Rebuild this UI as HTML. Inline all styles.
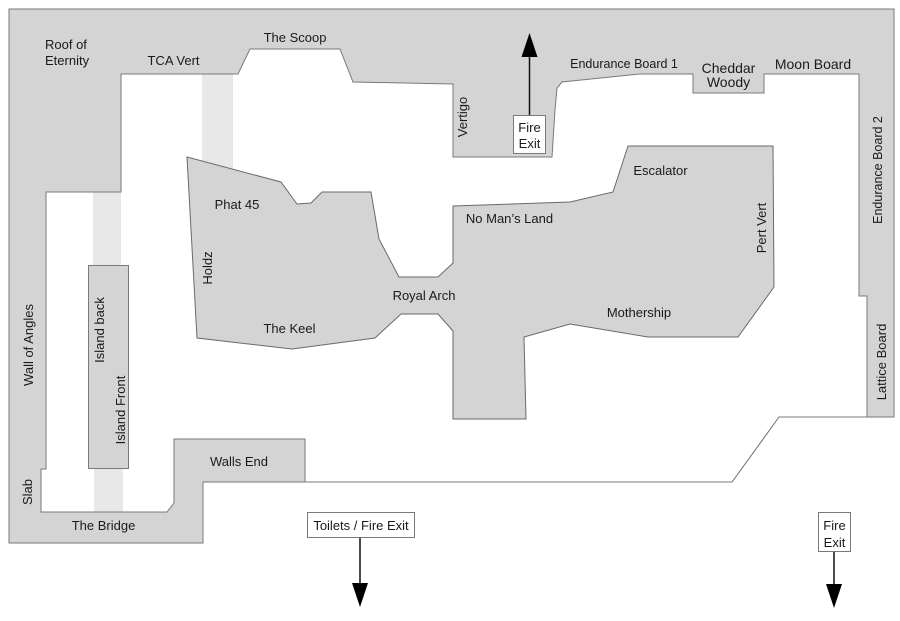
<!DOCTYPE html>
<html><head><meta charset="utf-8"><style>
html,body{margin:0;padding:0;background:#fff;}
svg{display:block;}
text{font-family:"Liberation Sans",Arial,sans-serif;font-size:13px;fill:#1a1a1a;}
</style></head><body>
<svg width="900" height="621" viewBox="0 0 900 621" xmlns="http://www.w3.org/2000/svg">
<!-- outer gray walls -->
<polygon points="9,9 894,9 894,417 779,417 732,482 203,482 203,543 9,543" fill="#d4d4d4" stroke="#7a7a7a" stroke-width="1"/>
<!-- floor (white) -->
<polygon points="121,74 238,74 250,49 340,49 353,82 453,84 453,157 552,157 555,110 557,88 562,82 640,74 693,74 693,93 764,93 764,74 859,74 859,296 867,296 867,417 779,417 732,482 305,482 305,439 174,439 174,503 167,512 41,512 41,469 46,469 46,192 121,192" fill="#ffffff" stroke="#7a7a7a" stroke-width="1"/>
<!-- light strips -->
<rect x="202" y="74.5" width="31" height="100" fill="#e9e8e9"/>
<rect x="93" y="192.5" width="28" height="73" fill="#e9e8e9"/>
<rect x="94" y="468" width="29" height="43.5" fill="#e9e8e9"/>
<!-- island -->
<rect x="88.5" y="265.5" width="40" height="203" fill="#d4d4d4" stroke="#7a7a7a" stroke-width="1"/>
<!-- central mass -->
<polygon points="187,157 281,182 297,204 311,203 322,192 371,192 379,239 399,277 438,277 453,263 453,206 570,202 613,192 628,146 773,146 774,287 738,337 648,337 570,324 524,337 526,419 453,419 453,331 438,314 401,314 375,338 292,349 197,338" fill="#d4d4d4" stroke="#6a6a6a" stroke-width="1"/>
<!-- fire exit top -->
<line x1="529.5" y1="115" x2="529.5" y2="56" stroke="#111" stroke-width="1.5"/>
<polygon points="521.5,57 537.5,57 529.5,33" fill="#000"/>
<rect x="513.5" y="115.5" width="32" height="38" fill="#fff" stroke="#7a7a7a" stroke-width="1"/>
<text x="529.5" y="132" text-anchor="middle">Fire</text>
<text x="529.5" y="148" text-anchor="middle">Exit</text>
<!-- toilets box -->
<rect x="307.5" y="512.5" width="107" height="25" fill="#fff" stroke="#7a7a7a" stroke-width="1"/>
<text x="361" y="530" text-anchor="middle">Toilets / Fire Exit</text>
<line x1="360" y1="538" x2="360" y2="584" stroke="#111" stroke-width="1.5"/>
<polygon points="352,583 368,583 360,607" fill="#000"/>
<!-- bottom right fire exit -->
<rect x="818.5" y="512.5" width="32" height="39" fill="#fff" stroke="#7a7a7a" stroke-width="1"/>
<text x="834.5" y="530" text-anchor="middle">Fire</text>
<text x="834.5" y="547" text-anchor="middle">Exit</text>
<line x1="834" y1="552" x2="834" y2="585" stroke="#111" stroke-width="1.5"/>
<polygon points="826,584 842,584 834,608" fill="#000"/>
<!-- labels -->
<text x="45" y="49">Roof of</text>
<text x="45" y="65">Eternity</text>
<text x="173.5" y="65" text-anchor="middle">TCA Vert</text>
<text x="295" y="42" text-anchor="middle">The Scoop</text>
<text transform="translate(467,117) rotate(-90)" text-anchor="middle">Vertigo</text>
<text x="624" y="68" text-anchor="middle" style="font-size:12.5px">Endurance Board 1</text>
<text x="728.5" y="73" text-anchor="middle" style="font-size:14px">Cheddar</text>
<text x="728.5" y="87" text-anchor="middle" style="font-size:14px">Woody</text>
<text x="813" y="69" text-anchor="middle" style="font-size:14px">Moon Board</text>
<text transform="translate(882,170) rotate(-90)" text-anchor="middle" style="font-size:12.5px">Endurance Board 2</text>
<text x="660.5" y="175" text-anchor="middle">Escalator</text>
<text x="509.5" y="223" text-anchor="middle">No Man’s Land</text>
<text transform="translate(766,228) rotate(-90)" text-anchor="middle">Pert Vert</text>
<text x="639" y="317" text-anchor="middle">Mothership</text>
<text x="424" y="300" text-anchor="middle">Royal Arch</text>
<text x="237" y="209" text-anchor="middle">Phat 45</text>
<text transform="translate(212,268) rotate(-90)" text-anchor="middle">Holdz</text>
<text x="289.5" y="333" text-anchor="middle">The Keel</text>
<text transform="translate(33,345) rotate(-90)" text-anchor="middle">Wall of Angles</text>
<text transform="translate(104,330) rotate(-90)" text-anchor="middle">Island back</text>
<text transform="translate(125,410) rotate(-90)" text-anchor="middle">Island Front</text>
<text x="239" y="466" text-anchor="middle">Walls End</text>
<text transform="translate(32,492) rotate(-90)" text-anchor="middle">Slab</text>
<text x="103.5" y="530" text-anchor="middle">The Bridge</text>
<text transform="translate(886,362) rotate(-90)" text-anchor="middle">Lattice Board</text>
</svg>
</body></html>
